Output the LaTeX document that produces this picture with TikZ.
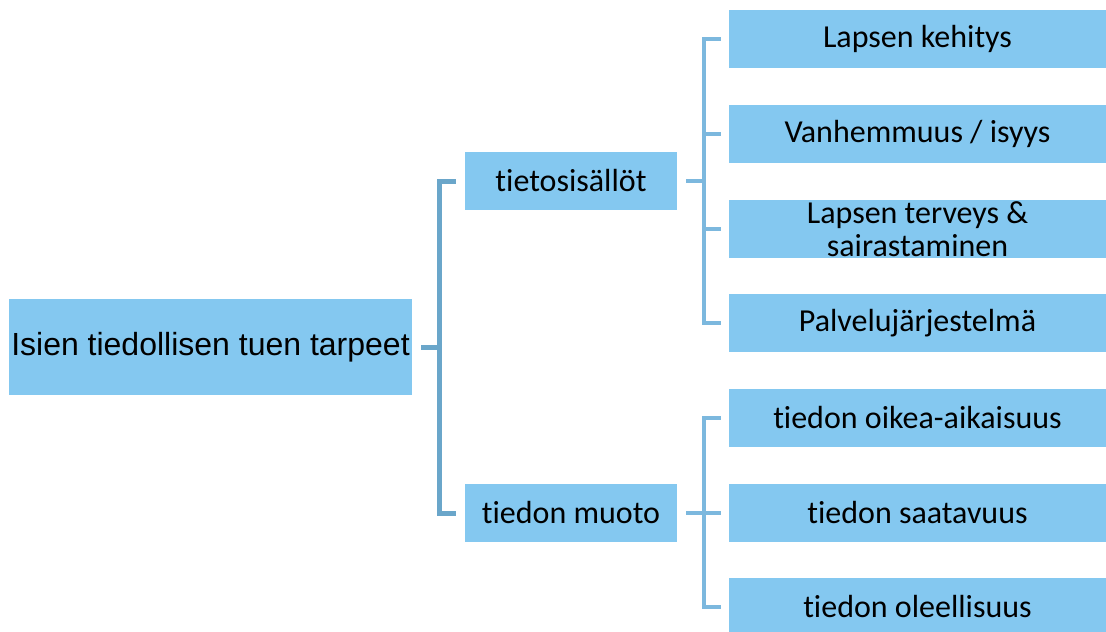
\documentclass[tikz,border=0pt]{standalone}
\usepackage{fontspec}
\setmainfont[Ligatures=NoCommon]{Carlito}
\newfontfamily\rootfont{Liberation Sans}
\usetikzlibrary{positioning}
\definecolor{boxblue}{HTML}{84C8F0}
\definecolor{linkdark}{HTML}{6AA6CA}
\definecolor{linklight}{HTML}{7CB8DE}
\tikzset{
  topic/.style={fill=boxblue, inner sep=0pt, align=center, font=\fontsize{32}{33}\selectfont},
  rootlink/.style={linkdark, line width=5pt},
  sublink/.style={linklight, line width=4pt}
}

\begin{document}
\begin{tikzpicture}[x=1pt, y=-1pt]
	\useasboundingbox (0,0) rectangle (1106,632);
	% main box
	\node [topic, minimum width=403pt, minimum height=96pt, font=\rootfont\fontsize{32}{36}\selectfont] (root) at (210.5,347) {Isien tiedollisen tuen tarpeet};
	% middle level
	\node [topic, minimum width=212pt, minimum height=58pt] (info) at (571,181) {tietosis\"all\"ot};
	\node [topic, minimum width=212pt, minimum height=58pt] (form) at (571,513) {tiedon muoto};
	% right level
	\node [topic, minimum width=377pt, minimum height=58pt] (dev) at (917.5,39) {Lapsen kehitys};
	\node [topic, minimum width=377pt, minimum height=58pt] (parent) at (917.5,134) {Vanhemmuus / isyys};
	\node [topic, minimum width=377pt, minimum height=58pt] (health) at (917.5,229) {Lapsen terveys \&\\sairastaminen};
	\node [topic, minimum width=377pt, minimum height=58pt] (serv) at (917.5,323) {Palvelujärjestelmä};
	\node [topic, minimum width=377pt, minimum height=58pt] (time) at (917.5,418) {tiedon oikea-aikaisuus};
	\node [topic, minimum width=377pt, minimum height=58pt] (avail) at (917.5,513) {tiedon saatavuus};
	\node [topic, minimum width=377pt, minimum height=58pt] (rel) at (917.5,607) {tiedon oleellisuus};

	% brackets
	\draw [rootlink] ([xshift=9pt]root.east) -- ++(18,0) coordinate (rj);
	\draw [rootlink] ([xshift=-9pt]info.west) -| (rj) |- ([xshift=-9pt]form.west);

	\draw [sublink] ([xshift=9pt]info.east) -- ++(18,0) coordinate (ij);
	\draw [sublink] ([xshift=-8pt]dev.west) -| (ij) |- ([xshift=-8pt]serv.west);
	\draw [sublink] (ij |- parent.west) -- ([xshift=-8pt]parent.west);
	\draw [sublink] (ij |- health.west) -- ([xshift=-8pt]health.west);

	\draw [sublink] ([xshift=9pt]form.east) -- ++(18,0) coordinate (fj);
	\draw [sublink] ([xshift=-8pt]time.west) -| (fj) |- ([xshift=-8pt]rel.west);
	\draw [sublink] (fj) -- ([xshift=-8pt]avail.west);
\end{tikzpicture}
\end{document}
